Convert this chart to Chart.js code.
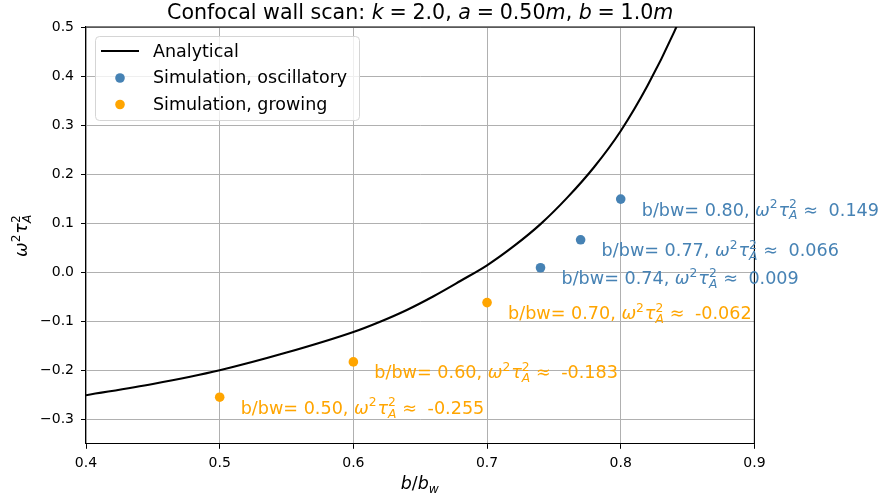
<!DOCTYPE html>
<html lang="en">
<head>
<meta charset="UTF-8">
<script src="https://cdn.jsdelivr.net/npm/chart.js"></script>
<style>
    body { margin: 0; background: #ffffff; }
    #wrap { width: 883px; height: 501px; }
</style>
<title>Confocal wall scan</title>
</head>
<body>
<div id="wrap"><canvas id="myChart" width="883" height="501"></canvas></div>
<script>
// analytical curve
var analyticX = [0.40, 0.45, 0.50, 0.55, 0.60, 0.62, 0.64, 0.66, 0.68, 0.70, 0.72, 0.74, 0.76, 0.78, 0.80, 0.82, 0.84, 0.85];
var analyticY = [-0.251, -0.228, -0.200, -0.164, -0.122, -0.101, -0.077, -0.049, -0.018, 0.014, 0.053, 0.098, 0.152, 0.214, 0.288, 0.380, 0.490, 0.555];

// simulation points
var oscX = [0.74, 0.77, 0.80];
var oscY = [0.009, 0.066, 0.149];
var growX = [0.50, 0.60, 0.70];
var growY = [-0.255, -0.183, -0.062];

var seriesNames = ['Analytical', 'Simulation, oscillatory', 'Simulation, growing'];

var xTicks = [0.4, 0.5, 0.6, 0.7, 0.8, 0.9];
var xTickLabels = ['0.4', '0.5', '0.6', '0.7', '0.8', '0.9'];
var yTicks = [-0.3, -0.2, -0.1, 0.0, 0.1, 0.2, 0.3, 0.4, 0.5];
var yTickLabels = ['\u22120.3', '\u22120.2', '\u22120.1', '0.0', '0.1', '0.2', '0.3', '0.4', '0.5'];

var FONT = '"DejaVu Sans"';
var BLUE = '#4682b4';
var ORANGE = '#ffa500';

function pts(xs, ys) {
    return xs.map(function (x, i) { return { x: x, y: ys[i] }; });
}

// draws text made of parts: {t, i} text, {g} gap in em, {sup, sub} scripts
function drawRich(ctx, parts, x, y, size, color, align) {
    function run(draw, x0) {
        var cx = x0;
        parts.forEach(function (p) {
            if (p.g) { cx += p.g * size; return; }
            if (p.sup || p.sub) {
                var ss = size * 0.7, w1 = 0, w2 = 0;
                if (p.sup) {
                    ctx.font = ss + 'px ' + FONT;
                    w1 = ctx.measureText(p.sup).width;
                    if (draw) ctx.fillText(p.sup, cx, y - size * 0.42);
                }
                if (p.sub) {
                    ctx.font = 'italic ' + ss + 'px ' + FONT;
                    w2 = ctx.measureText(p.sub).width;
                    if (draw) ctx.fillText(p.sub, cx, y + size * 0.22);
                }
                cx += Math.max(w1, w2) + size * 0.05;
                return;
            }
            ctx.font = (p.i ? 'italic ' : '') + size + 'px ' + FONT;
            if (draw) ctx.fillText(p.t, cx, y);
            cx += ctx.measureText(p.t).width;
        });
        return cx - x0;
    }
    ctx.save();
    ctx.fillStyle = color;
    ctx.textBaseline = 'alphabetic';
    ctx.textAlign = 'left';
    var w = run(false, 0);
    var sx = align === 'center' ? x - w / 2 : x;
    run(true, sx);
    ctx.restore();
}

function mathW2(value) {
    return [
        { t: '\u03c9', i: 1 }, { sup: '2' }, { t: '\u03c4', i: 1 }, { sup: '2', sub: 'A' },
        { g: 0.28 }, { t: '\u2248' }, { g: 0.28 }, { t: ' ' + value }
    ];
}

var decorPlugin = {
    id: 'decor',
    afterDatasetsDraw: function (chart) {
        var ctx = chart.ctx;
        var a = chart.chartArea;
        var xs = chart.scales.x, ys = chart.scales.y;

        // top and right spines
        ctx.save();
        ctx.strokeStyle = '#000000';
        ctx.lineWidth = 1.1;
        ctx.beginPath();
        ctx.moveTo(a.left, a.top);
        ctx.lineTo(a.right, a.top);
        ctx.lineTo(a.right, a.bottom);
        ctx.stroke();
        ctx.restore();

        // point labels
        var groups = [[oscX, oscY, BLUE], [growX, growY, ORANGE]];
        groups.forEach(function (g) {
            g[0].forEach(function (bx, i) {
                var px = xs.getPixelForValue(bx) + 21;
                var py = ys.getPixelForValue(g[1][i]) + 16.5;
                var parts = [{ t: 'b/bw= ' + bx.toFixed(2) + ', ' }].concat(mathW2(g[1][i].toFixed(3)));
                drawRich(ctx, parts, px, py, 17.6, g[2], 'left');
            });
        });

        // legend
        var lx = 95.5, ly = 36.5, lw = 264, lh = 84;
        ctx.save();
        ctx.beginPath();
        ctx.roundRect(lx, ly, lw, lh, 4);
        ctx.fillStyle = 'rgba(255,255,255,0.8)';
        ctx.fill();
        ctx.strokeStyle = '#d5d5d5';
        ctx.lineWidth = 1;
        ctx.stroke();

        ctx.strokeStyle = '#000000';
        ctx.lineWidth = 2.1;
        ctx.beginPath();
        ctx.moveTo(101, 51);
        ctx.lineTo(139, 51);
        ctx.stroke();
        [BLUE, ORANGE].forEach(function (c, i) {
            ctx.fillStyle = c;
            ctx.beginPath();
            ctx.arc(120, 78 + i * 26.5, 4.8, 0, Math.PI * 2);
            ctx.fill();
        });
        ctx.fillStyle = '#000000';
        ctx.font = '17.5px ' + FONT;
        ctx.textBaseline = 'middle';
        seriesNames.forEach(function (n, i) {
            ctx.fillText(n, 153, 52 + i * 26.5);
        });
        ctx.restore();
    },
    afterDraw: function (chart) {
        var ctx = chart.ctx;
        var a = chart.chartArea;
        var mid = (a.left + a.right) / 2;

        // title
        drawRich(ctx, [
            { t: 'Confocal wall scan: ' },
            { t: 'k', i: 1 }, { g: 0.28 }, { t: '=' }, { g: 0.28 }, { t: '2.0' },
            { t: ', ' },
            { t: 'a', i: 1 }, { g: 0.28 }, { t: '=' }, { g: 0.28 }, { t: '0.50' }, { t: 'm', i: 1 },
            { t: ', ' },
            { t: 'b', i: 1 }, { g: 0.28 }, { t: '=' }, { g: 0.28 }, { t: '1.0' }, { t: 'm', i: 1 }
        ], mid, 19, 20.6, '#000000', 'center');

        // x axis label
        drawRich(ctx, [{ t: 'b', i: 1 }, { t: '/' }, { t: 'b', i: 1 }, { sub: 'w' }], mid, 489, 17.5, '#000000', 'center');

        // y axis label
        ctx.save();
        ctx.translate(27, (a.top + a.bottom) / 2);
        ctx.rotate(-Math.PI / 2);
        drawRich(ctx, mathW2('').slice(0, 4), 0, 0, 17.5, '#000000', 'center');
        ctx.restore();
    }
};

var ctx = document.getElementById('myChart').getContext('2d');
var myChart = new Chart(ctx, {
    type: 'scatter',
    data: {
        datasets: [
            {
                type: 'line',
                label: seriesNames[0],
                data: pts(analyticX, analyticY),
                borderColor: '#000000',
                borderWidth: 2.1,
                pointRadius: 0,
                fill: false,
                cubicInterpolationMode: 'monotone',
                order: 3
            },
            {
                label: seriesNames[1],
                data: pts(oscX, oscY),
                backgroundColor: BLUE,
                borderWidth: 0,
                pointRadius: 4.8,
                order: 1
            },
            {
                label: seriesNames[2],
                data: pts(growX, growY),
                backgroundColor: ORANGE,
                borderWidth: 0,
                pointRadius: 4.8,
                order: 1
            }
        ]
    },
    options: {
        responsive: false,
        animation: false,
        devicePixelRatio: 1,
        layout: { padding: { top: 27, right: 128.6, left: 0, bottom: 0 } },
        plugins: {
            legend: { display: false },
            tooltip: { enabled: false },
            title: { display: false }
        },
        scales: {
            x: {
                type: 'linear',
                min: 0.4,
                max: 0.9,
                afterFit: function (s) { s.height = 57.2; },
                afterBuildTicks: function (s) { s.ticks = xTicks.map(function (v) { return { value: v }; }); },
                ticks: {
                    color: '#000000',
                    font: { family: 'DejaVu Sans', size: 14 },
                    padding: 6,
                    maxRotation: 0,
                    callback: function (v) { return xTickLabels[xTicks.indexOf(v)]; }
                },
                grid: { color: '#b0b0b0', lineWidth: 1, tickColor: '#000000', tickLength: 5 },
                border: { color: '#000000', width: 1.1 }
            },
            y: {
                type: 'linear',
                min: -0.35,
                max: 0.5,
                afterFit: function (s) { s.width = 86; },
                afterBuildTicks: function (s) { s.ticks = yTicks.map(function (v) { return { value: v }; }); },
                ticks: {
                    color: '#000000',
                    font: { family: 'DejaVu Sans', size: 14 },
                    padding: 7,
                    callback: function (v) { return yTickLabels[yTicks.indexOf(v)]; }
                },
                grid: { color: '#b0b0b0', lineWidth: 1, tickColor: '#000000', tickLength: 5 },
                border: { color: '#000000', width: 1.1 }
            }
        }
    },
    plugins: [decorPlugin]
});
</script>
</body>
</html>
